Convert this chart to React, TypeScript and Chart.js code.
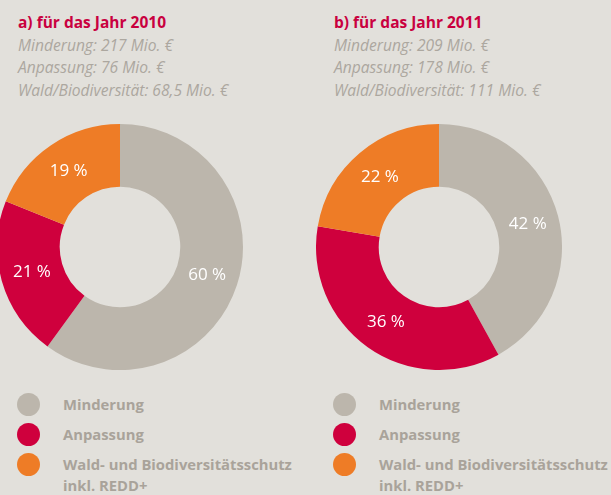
import React, { useEffect, useRef } from "react";
import { Chart, registerables } from "chart.js";

Chart.register(...registerables);

const categories = ["Minderung", "Anpassung", "Wald- und Biodiversitätsschutz inkl. REDD+"];
const values2010 = [217, 76, 68.5];
const values2011 = [209, 178, 111];
const titles = ["a) für das Jahr 2010", "b) für das Jahr 2011"];
const subtitles2010 = ["Minderung: 217 Mio. €", "Anpassung: 76 Mio. €", "Wald/Biodiversität: 68,5 Mio. €"];
const subtitles2011 = ["Minderung: 209 Mio. €", "Anpassung: 178 Mio. €", "Wald/Biodiversität: 111 Mio. €"];
const legendLines = [["Minderung"], ["Anpassung"], ["Wald- und Biodiversitätsschutz", "inkl. REDD+"]];

const COLORS = ["#bcb6ac", "#cf003d", "#ee7c26"];
const BG = "#e2e0db";
const FONT = "'Open Sans', sans-serif";

const labelPlugin = {
  id: "pctLabels",
  afterDatasetsDraw(chart: any) {
    const ctx = chart.ctx;
    const meta = chart.getDatasetMeta(0);
    const data = chart.data.datasets[0].data as number[];
    const total = data.reduce((a, b) => a + b, 0);
    ctx.save();
    ctx.fillStyle = "#ffffff";
    ctx.font = `400 17px ${FONT}`;
    ctx.textAlign = "center";
    ctx.textBaseline = "middle";
    meta.data.forEach((arc: any, i: number) => {
      const p = arc.getCenterPoint();
      const pct = Math.round((data[i] / total) * 100);
      ctx.fillText(`${pct} %`, p.x, p.y);
    });
    ctx.restore();
  },
};

function Donut({ values, left }: { values: number[]; left: number }) {
  const ref = useRef<HTMLCanvasElement | null>(null);
  useEffect(() => {
    if (!ref.current) return;
    const chart = new Chart(ref.current, {
      type: "doughnut",
      data: {
        labels: categories,
        datasets: [{ data: values, backgroundColor: COLORS, borderWidth: 0, hoverOffset: 0 }],
      },
      options: {
        animation: false,
        responsive: false,
        cutout: "49%",
        layout: { padding: 0 },
        plugins: { legend: { display: false }, tooltip: { enabled: false } },
      },
      plugins: [labelPlugin],
    });
    return () => chart.destroy();
  }, [values]);
  return (
    <canvas
      ref={ref}
      width={246}
      height={246}
      style={{ position: "absolute", left, top: 124, width: 246, height: 246 }}
    />
  );
}

function Panel({ x, title, subs }: { x: number; title: string; subs: string[] }) {
  return (
    <>
      <div
        style={{
          position: "absolute", left: x, top: 11.5, fontFamily: FONT, fontWeight: 700,
          fontSize: 15.5, lineHeight: "20px", color: "#c9003f", whiteSpace: "nowrap",
        }}
      >
        {title}
      </div>
      {subs.map((s, i) => (
        <div
          key={i}
          style={{
            position: "absolute", left: x, top: 33.5 + i * 22.5, fontFamily: FONT, fontStyle: "italic",
            fontSize: 15.6, lineHeight: "22.5px", color: "#aca79f", whiteSpace: "nowrap",
          }}
        >
          {s}
        </div>
      ))}
    </>
  );
}

function Legend({ cx, tx }: { cx: number; tx: number }) {
  const rows = [404, 434, 464];
  return (
    <>
      {legendLines.map((lines, i) => (
        <React.Fragment key={i}>
          <div
            style={{
              position: "absolute", left: cx - 11.5, top: rows[i] - 11.5, width: 23, height: 23,
              borderRadius: "50%", background: COLORS[i],
            }}
          />
          {lines.map((l, j) => (
            <div
              key={j}
              style={{
                position: "absolute", left: tx, top: rows[i] - 10 + j * 21, fontFamily: FONT, fontWeight: 700,
                fontSize: 14.8, lineHeight: "21px", color: "#a9a39a", whiteSpace: "nowrap",
              }}
            >
              {l}
            </div>
          ))}
        </React.Fragment>
      ))}
    </>
  );
}

export default function App() {
  useEffect(() => {
    document.body.style.margin = "0";
    document.body.style.background = BG;
  }, []);
  return (
    <div style={{ position: "relative", width: 611, height: 495, background: BG, overflow: "hidden" }}>
      <Panel x={18} title={titles[0]} subs={subtitles2010} />
      <Panel x={334} title={titles[1]} subs={subtitles2011} />
      <Donut values={values2010} left={-3} />
      <Donut values={values2011} left={316} />
      <Legend cx={28.5} tx={63} />
      <Legend cx={344.3} tx={379} />
    </div>
  );
}
